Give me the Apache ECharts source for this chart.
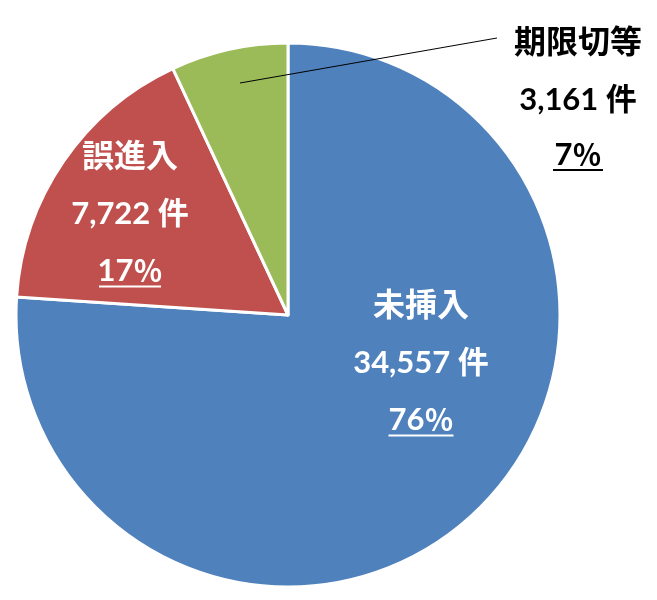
<!DOCTYPE html>
<html>
<head>
<meta charset="utf-8">
<script src="https://cdn.jsdelivr.net/npm/echarts@6/dist/echarts.min.js"></script>
<style>
html,body{margin:0;padding:0;background:#fff;}
#chart{width:657px;height:600px;}
</style>
</head>
<body>
<div id="chart"></div>
<script>
const categories = ['未挿入', '誤進入', '期限切等'];
const values = [34557, 7722, 3161];
const unit = '件';
const colors = ['#4F81BD', '#C0504D', '#9BBB59'];

const total = values.reduce((a, b) => a + b, 0);
// label placement / style (layout only, not data)
const labelLayoutPos = [
  {x: 421, y: 277},
  {x: 130, y: 128},
  {x: 578, y: 14, line: [[240, 83], [497, 38], [497, 38]]}
];
const underlineW = [65, 62, 50];
const pctPad = [44, 44, 40];
const ulLineH = [61, 61, 56];
const outsideIndex = 2;

const FONT = "Lato, 'Noto Sans CJK JP', sans-serif";
const CJK = "'Noto Sans CJK JP', sans-serif";

function richFor(color, i) {
  return {
    n: {fontSize: 32, fontWeight: 'bold', color: color, lineHeight: 57, fontFamily: FONT},
    m: {fontSize: 31, fontWeight: 'bold', color: color, lineHeight: 57, fontFamily: FONT},
    p: {fontSize: 31, fontWeight: 'bold', color: color, lineHeight: 14, height: 30, padding: [pctPad[i], 0, 0, 0], fontFamily: FONT},
    q: {fontSize: 29, fontWeight: 'bold', color: color, lineHeight: 14, height: 30, padding: [pctPad[i], 0, 0, 0], fontFamily: CJK},
    u: {fontSize: 1, width: underlineW[i], height: 2, lineHeight: ulLineH[i], backgroundColor: color}
  };
}

function fmt(p) {
  const pct = Math.round(p.value / total * 100);
  return '{n|' + p.name + '}\n{m|' + p.value.toLocaleString('en-US') + ' ' + unit + '}\n{p|' + pct + '}{q|％}\n{u| }';
}

function layoutFn(params) {
  const pos = labelLayoutPos[params.dataIndex];
  const r = {x: pos.x, y: pos.y, align: 'center', verticalAlign: 'top'};
  if (pos.line) r.labelLinePoints = pos.line;
  return r;
}

// main pie: slices + inside labels
const mainData = categories.map((name, i) => ({
  name: name,
  value: values[i],
  itemStyle: {color: colors[i]},
  label: {
    show: i !== outsideIndex,
    position: 'inside',
    rich: richFor('#fff', i)
  },
  labelLine: {show: false}
}));

// overlay pie (transparent) carrying the outside label + leader line on top
const overlayData = categories.map((name, i) => ({
  name: name,
  value: values[i],
  itemStyle: {color: 'rgba(0,0,0,0)'},
  label: {
    show: i === outsideIndex,
    position: 'outside',
    rich: richFor('#000', i)
  },
  labelLine: {show: i === outsideIndex, lineStyle: {color: '#000', width: 1}}
}));

const common = {
  type: 'pie',
  center: [288, 315],
  radius: [0, 272],
  startAngle: 90,
  clockwise: true,
  avoidLabelOverlap: false,
  emphasis: {disabled: true},
  label: {formatter: fmt},
  labelLayout: layoutFn
};

const chart = echarts.init(document.getElementById('chart'), null, {renderer: 'canvas'});
chart.setOption({
  animation: false,
  backgroundColor: '#fff',
  series: [
    Object.assign({}, common, {
      z: 2,
      itemStyle: {borderColor: '#fff', borderWidth: 3},
      data: mainData
    }),
    Object.assign({}, common, {
      z: 3,
      silent: true,
      itemStyle: {borderWidth: 0},
      data: overlayData
    })
  ]
});
</script>
</body>
</html>
